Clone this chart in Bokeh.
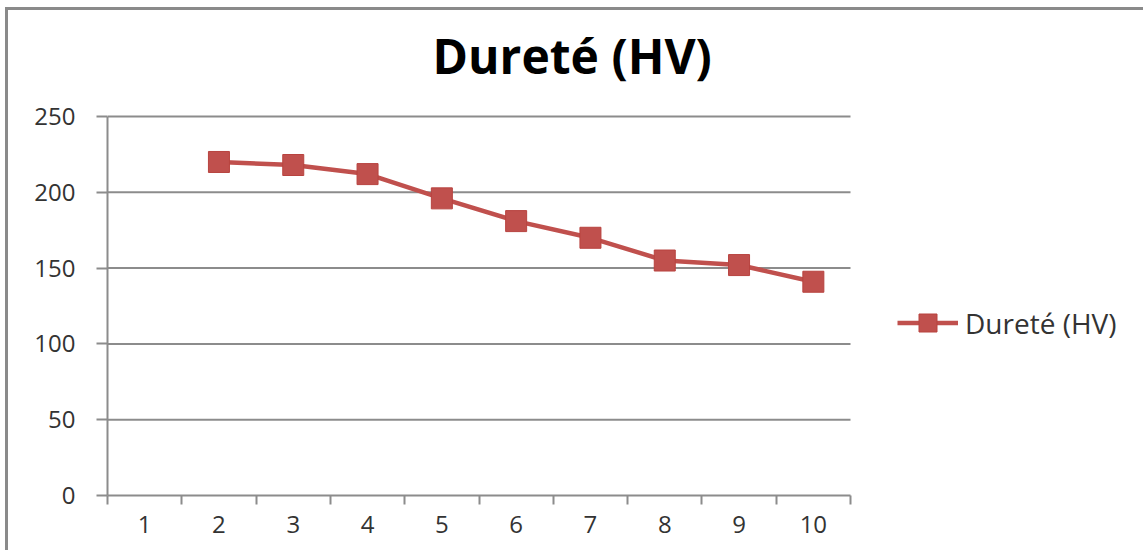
from bokeh.plotting import figure
from bokeh.models import Range1d, FixedTicker, Legend, LegendItem, Label
from bokeh.embed import file_html
from bokeh.resources import INLINE

# Hardness measurements (Vickers) per sample number
categories = [1, 2, 3, 4, 5, 6, 7, 8, 9, 10]
sample_ids = [2, 3, 4, 5, 6, 7, 8, 9, 10]
hardness_hv = [220, 218, 212, 196, 181, 170, 155, 152, 141]
y_ticks = [0, 50, 100, 150, 200, 250]
series_name = "Dureté (HV)"

RED = "#C0504D"
GRID = "#8c8c8c"
FONT = "Open Sans"

# The frame covers the whole canvas above and right of the axes; the chart
# area (axes, grid) occupies AREA_W x AREA_H pixels of it, the rest holds the
# title and legend.
FRAME_W, FRAME_H = 1039, 485
AREA_W, AREA_H = 743, 379

x_lo = categories[0] - 0.5
x_hi = categories[-1] + 0.5
y_lo, y_hi = y_ticks[0], y_ticks[-1]
x_per_px = (x_hi - x_lo) / AREA_W
y_per_px = (y_hi - y_lo) / AREA_H

p = figure(
    width=1138, height=543, title=None,
    x_range=Range1d(x_lo, x_lo + FRAME_W * x_per_px),
    y_range=Range1d(y_lo, y_lo + FRAME_H * y_per_px),
    output_backend="svg", toolbar_location=None,
    min_border_left=99, min_border_right=0,
    min_border_top=0, min_border_bottom=58,
    background_fill_color="white", border_fill_color="white",
    outline_line_color=None,
)
p.styles = {
    "margin-left": "5px", "margin-top": "7px",
    "border-left": "3px solid #8a8a8a", "border-top": "3px solid #8a8a8a",
}

# Chart title
p.add_layout(Label(
    x=x_lo + 325 * x_per_px, y=y_lo + 440 * y_per_px,
    text=series_name, text_font=FONT, text_font_style="bold",
    text_font_size="48px", text_color="#000000",
    text_baseline="alphabetic", text_align="left",
))

# Category axis: labels at centres, ticks at category boundaries
xa = p.xaxis[0]
xa.bounds = (x_lo, x_hi)
xa.ticker = FixedTicker(ticks=categories,
                        minor_ticks=[c - 0.5 for c in categories] + [x_hi])
xa.major_tick_line_color = None
xa.minor_tick_in = 0
xa.minor_tick_out = 9
xa.minor_tick_line_color = GRID
xa.minor_tick_line_width = 2
xa.axis_line_color = GRID
xa.axis_line_width = 2
xa.major_label_text_font = FONT
xa.major_label_text_font_size = "24px"
xa.major_label_text_color = "#333333"
xa.major_label_standoff = 11

ya = p.yaxis[0]
ya.bounds = (y_lo, y_hi)
ya.ticker = FixedTicker(ticks=y_ticks, minor_ticks=[])
ya.major_tick_in = 0
ya.major_tick_out = 11
ya.major_tick_line_color = GRID
ya.major_tick_line_width = 2
ya.axis_line_color = GRID
ya.axis_line_width = 2
ya.major_label_text_font = FONT
ya.major_label_text_font_size = "24px"
ya.major_label_text_color = "#333333"
ya.major_label_standoff = 21

# Horizontal gridlines limited to the chart area
p.xgrid.grid_line_color = None
p.ygrid.grid_line_color = None
grid_y = y_ticks[1:]
p.segment(x0=[x_lo] * len(grid_y), x1=[x_hi] * len(grid_y), y0=grid_y, y1=grid_y,
          line_color=GRID, line_width=2)

line = p.line(sample_ids, hardness_hv, line_color=RED, line_width=4.5)
marks = p.scatter(sample_ids, hardness_hv, marker="square", size=21,
                  fill_color=RED, line_color="#b8433f", line_width=1)

legend = Legend(
    items=[LegendItem(label=series_name, renderers=[line, marks])],
    location=(790, 150),
    orientation="vertical",
    background_fill_alpha=0, border_line_color=None,
    padding=0, margin=0, spacing=0,
    glyph_width=61, glyph_height=45, label_standoff=7,
    label_text_font=FONT, label_text_font_size="28px",
    label_text_color="#333333",
)
p.add_layout(legend, "center")

open("out.html", "w").write(file_html(p, INLINE))
